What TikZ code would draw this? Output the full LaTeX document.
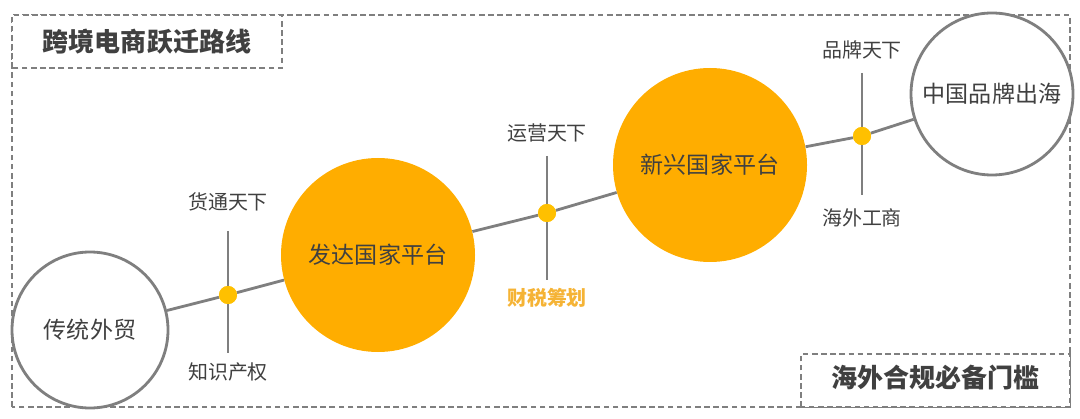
\documentclass[tikz,border=0pt]{standalone}
\usepackage{fontspec}
\setmainfont{Noto Sans CJK SC}
\usepackage{tikz}
\definecolor{amber}{HTML}{FFAD00}
\definecolor{dotamber}{HTML}{FFC000}
\definecolor{linegray}{HTML}{7F7F7F}
\definecolor{textgray}{HTML}{404040}
\definecolor{taxorange}{HTML}{F5B335}

\begin{document}
\begin{tikzpicture}[
    stage/.style={circle,draw=linegray,line width=2pt,fill=white,inner sep=0pt,text=textgray,font=\fontsize{16.4}{18}\selectfont},
    hub/.style={circle,fill=amber,inner sep=0pt,minimum size=4.85cm,text=textgray,font=\fontsize{16.4}{18}\selectfont},
    joint/.style={circle,fill=dotamber,inner sep=0pt,minimum size=0.45cm},
    tag/.style={text=textgray,font=\fontsize{14.2}{16}\selectfont},
    route/.style={linegray,line width=2pt},
    frame/.style={draw=linegray,line width=1.3pt,dash pattern=on 4pt off 2.5pt}
  ]
  \useasboundingbox (0,0) rectangle (27,10.45);
  % dashed frames
  \draw[frame] (0.3,0.275) rectangle (26.75,10.075);
  \draw[frame,fill=white] (0.3,8.75) rectangle (7.05,10.075);
  \draw[frame,fill=white] (20.025,0.275) rectangle (26.75,1.6);
  \node[text=textgray,font=\fontsize{18.5}{20}\selectfont\bfseries] (title) at (3.675,9.41) {跨境电商跃迁路线};
  \node[text=textgray,font=\fontsize{18.5}{20}\selectfont\bfseries] (gate) at (23.39,1.0) {海外合规必备门槛};
  % vertical ticks
  \coordinate (t1) at (5.7,4.675);
  \coordinate (b1) at (5.7,1.625);
  \coordinate (t2) at (13.675,6.55);
  \coordinate (b2) at (13.675,3.45);
  \coordinate (t3) at (21.55,8.625);
  \coordinate (b3) at (21.55,5.575);
  \draw[route] (t1) -- (b1);
  \draw[route] (t2) -- (b2);
  \draw[route] (t3) -- (b3);
  % stages
  \node[hub] (dev) at (9.45,4.075) {发达国家平台};
  \node[hub] (emg) at (17.75,6.325) {新兴国家平台};
  \node[joint] (j1) at (5.7,3.075) {};
  \node[joint] (j2) at (13.675,5.125) {};
  \node[joint] (j3) at (21.55,7.05) {};
  \node[stage,minimum size=3.9cm] (trad) at (2.25,2.2) {传统外贸};
  \node[stage,minimum size=4.05cm] (brand) at (24.8,8.1) {中国品牌出海};
  \draw[route] (trad) -- (j1) -- (dev);
  \draw[route] (dev) -- (j2) -- (emg);
  \draw[route] (emg) -- (j3) -- (brand);
  \node[joint] at (j1) {};
  \node[joint] at (j2) {};
  \node[joint] at (j3) {};
  % labels
  \node[tag] (l1) at (5.7,5.4) {货通天下};
  \node[tag] (l2) at (5.7,1.15) {知识产权};
  \node[tag] (l3) at (13.675,7.125) {运营天下};
  \node[tag,text=taxorange,font=\fontsize{14.2}{16}\selectfont\bfseries] (l4) at (13.675,3.0) {财税筹划};
  \node[tag] (l5) at (21.55,9.2) {品牌天下};
  \node[tag] (l6) at (21.55,5.0) {海外工商};
\end{tikzpicture}
\end{document}
